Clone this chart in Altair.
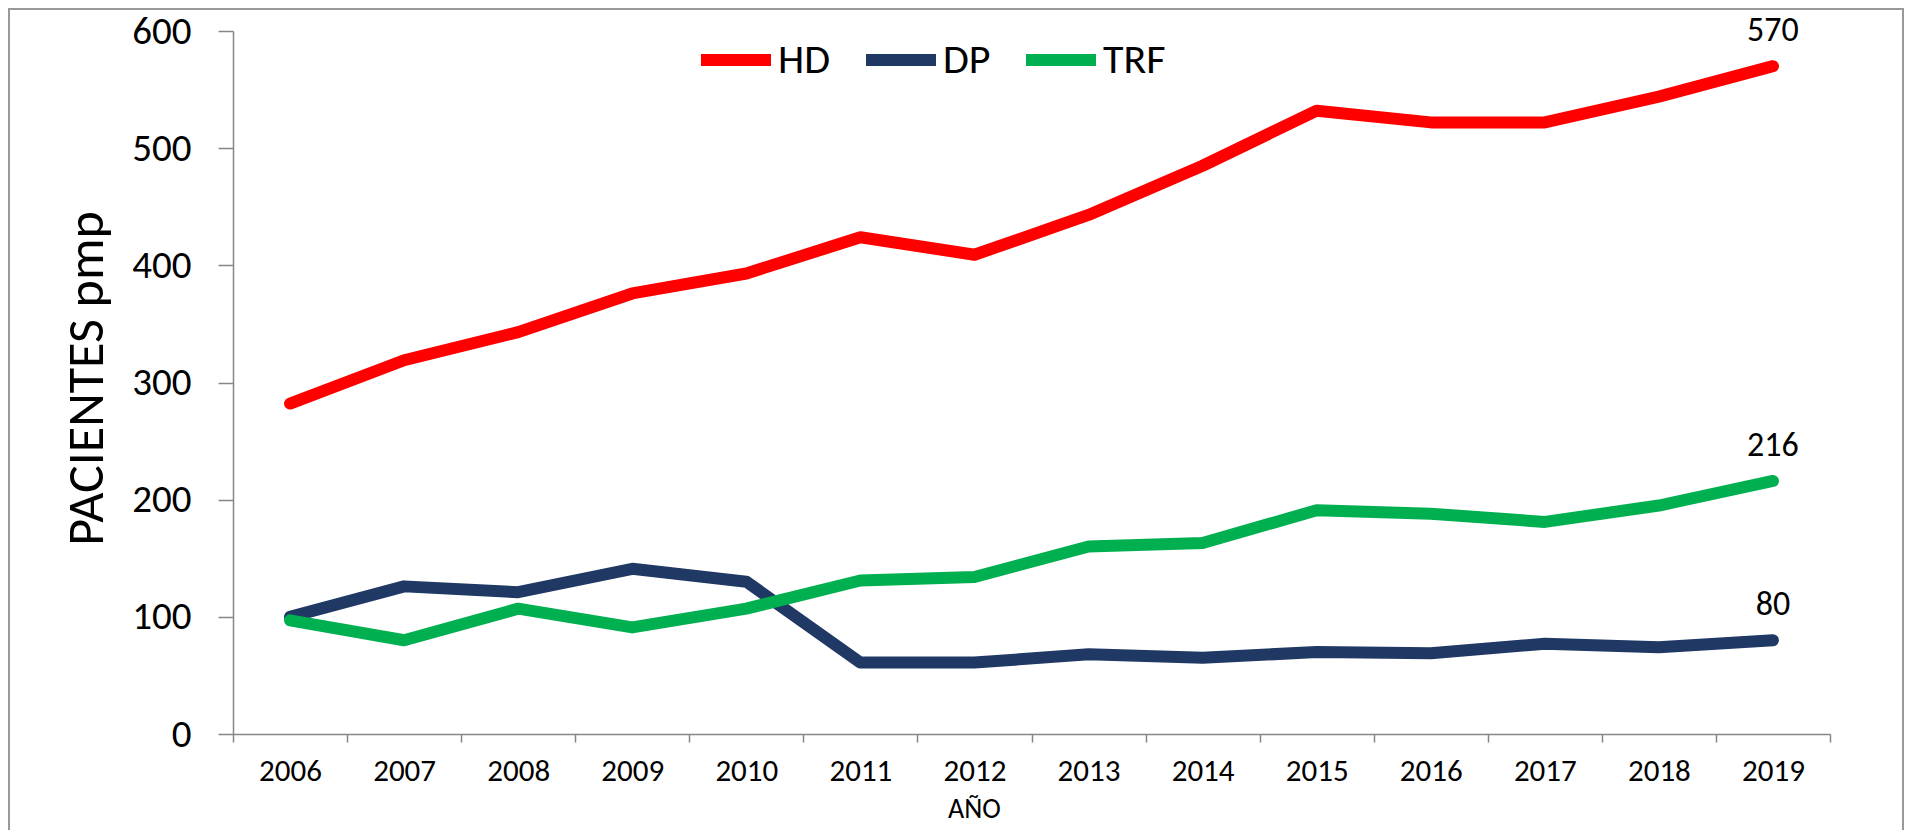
import altair as alt
import pandas as pd

years = [str(y) for y in range(2006, 2020)]
hd = [282, 319, 343, 376, 393, 424, 409, 443, 485, 532, 522, 522, 544, 570]
dp = [100, 126, 121, 141, 130, 61, 61, 68, 65, 70, 69, 77, 74, 80]
trf = [97, 80, 107, 91, 107, 131, 134, 160, 163, 191, 188, 181, 195, 216]
series = ["HD", "DP", "TRF"]
colors = ["#FF0000", "#1F3864", "#00B050"]
y_ticks = [0, 100, 200, 300, 400, 500, 600]

rows = []
for name, vals in zip(series, [hd, dp, trf]):
    for yr, v in zip(years, vals):
        rows.append({"year": yr, "serie": name, "val": v})
df = pd.DataFrame(rows)

FONT = "Carlito, 'Liberation Sans Narrow', 'Open Sans', sans-serif"
GRAY = "#868686"

x_enc = alt.X(
    "year:N",
    bandPosition=0.5,
    scale=alt.Scale(type="band", paddingInner=0, paddingOuter=0),
    axis=alt.Axis(
        title="AÑO", tickBand="extent", labelAngle=0, tickSize=8,
        labelFontSize=31, labelPadding=14, titleFontSize=28,
        titleFontWeight="normal", titleX=741, titleY=83,
        titleBaseline="alphabetic", titleAlign="center",
        domainColor=GRAY, tickColor=GRAY, domainWidth=1.5, tickWidth=1.5,
        labelColor="black", titleColor="black", grid=False,
    ),
)
y_enc = alt.Y(
    "val:Q",
    scale=alt.Scale(domain=[0, 600], nice=False),
    axis=alt.Axis(
        title="PACIENTES pmp", values=y_ticks, tickSize=15, labelFontSize=39,
        labelPadding=27, titleFontSize=52, titleFontWeight="normal",
        titleX=-131, titleY=347, titleAngle=270, titleBaseline="alphabetic",
        titleAlign="center", domainColor=GRAY, tickColor=GRAY,
        domainWidth=1.5, tickWidth=1.5, labelColor="black",
        titleColor="black", grid=False,
    ),
)

lines = alt.Chart(df).mark_line(
    strokeWidth=12, strokeCap="round", strokeJoin="round"
).encode(
    x=x_enc,
    y=y_enc,
    color=alt.Color(
        "serie:N",
        sort=series,
        scale=alt.Scale(domain=series, range=colors),
        legend=alt.Legend(
            title=None, orient="none", legendX=462, legendY=-12,
            direction="horizontal", symbolType="stroke",
            symbolStrokeWidth=12, symbolSize=4900, labelFontSize=42,
            labelColor="black", columnPadding=11, labelOffset=1, padding=0,
        ),
    ),
)

labels = alt.Chart(df).transform_filter(
    alt.datum.year == years[-1]
).mark_text(dy=-35, fontSize=34, color="black").encode(
    x=alt.X("year:N", bandPosition=0.5),
    y=alt.Y("val:Q"),
    text=alt.Text("val:Q"),
)

frame = alt.Chart(alt.Data(values=[{}])).mark_rect(
    fillOpacity=0, stroke="#999999", strokeWidth=2
).encode(
    x=alt.value(-224), x2=alt.value(1597 + 73),
    y=alt.value(-22), y2=alt.value(900),
)

chart = alt.layer(frame, lines, labels).properties(
    width=1597, height=703,
    padding={"left": 225, "top": 23, "right": 75, "bottom": 96},
    autosize="none",
).configure(font=FONT).configure_view(stroke=None)

chart.save("out.html", embed_options={"renderer": "svg", "actions": False})
